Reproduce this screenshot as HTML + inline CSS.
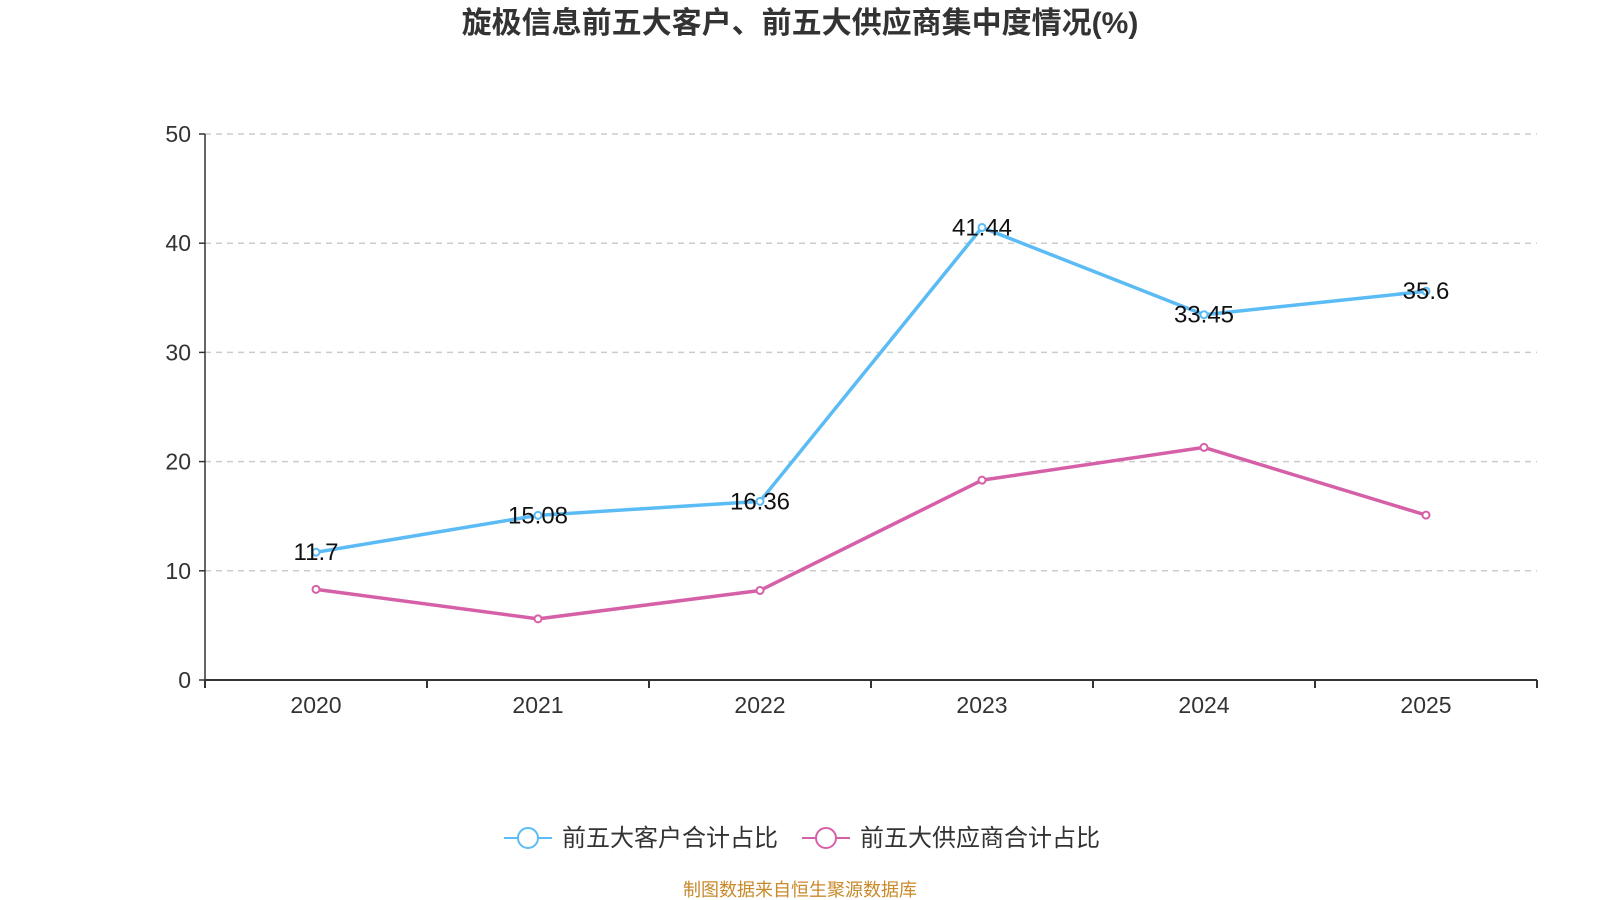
<!DOCTYPE html>
<html><head><meta charset="utf-8"><style>
html,body{margin:0;padding:0;background:#fff;width:1600px;height:900px;overflow:hidden}
svg{font-family:"Liberation Sans","Noto Sans CJK SC",sans-serif}
</style></head><body>
<svg id="chart" width="1600" height="900" xmlns="http://www.w3.org/2000/svg">
<text x="800" y="33" text-anchor="middle" font-size="30" font-weight="bold" fill="#333">旋极信息前五大客户、前五大供应商集中度情况(%)</text>
<g id="grid"></g><g id="axes"></g><g id="series"></g>
<g>
<g>
<line x1="504" y1="838" x2="552" y2="838" stroke="#5bbcf5" stroke-width="2"/>
<circle cx="528" cy="838" r="10" fill="#fff" stroke="#5bbcf5" stroke-width="2"/>
<text x="562" y="846" font-size="24" fill="#333">前五大客户合计占比</text></g>
<g>
<line x1="802" y1="838" x2="850" y2="838" stroke="#d660a8" stroke-width="2"/>
<circle cx="826" cy="838" r="10" fill="#fff" stroke="#d660a8" stroke-width="2"/>
<text x="860" y="846" font-size="24" fill="#333">前五大供应商合计占比</text></g>
</g>
<text x="800" y="896" text-anchor="middle" font-size="18" fill="#c8892a">制图数据来自恒生聚源数据库</text>
</svg>
<script>
const categories=["2020","2021","2022","2023","2024","2025"];
const customerShare=[11.7,15.08,16.36,41.44,33.45,35.6];
const supplierShare=[8.3,5.6,8.2,18.3,21.3,15.1];
const yTicks=[0,10,20,30,40,50];
const NS="http://www.w3.org/2000/svg";
const L=205,R=1537,T=134,B=680,yMax=50;
const bw=(R-L)/categories.length;
const x=i=>L+bw*(i+0.5);
const y=v=>B-(v/yMax)*(B-T);
function mk(tag,attrs,parent,txt){const e=document.createElementNS(NS,tag);for(const k in attrs)e.setAttribute(k,attrs[k]);if(txt!==undefined)e.textContent=txt;parent.appendChild(e);return e;}
const grid=document.getElementById('grid'),axes=document.getElementById('axes'),ser=document.getElementById('series');
yTicks.forEach(t=>{
  if(t>0){const g=mk('line',{x1:L,x2:R,y1:y(t),y2:y(t),stroke:'#ccc','stroke-width':1.5,'stroke-dasharray':'6,5'},grid);
  
  }
  mk('line',{x1:L-6,x2:L,y1:y(t),y2:y(t),stroke:'#333','stroke-width':1.5},axes);
  const lb=mk('text',{x:L-14,y:y(t)+8,'text-anchor':'end','font-size':23,fill:'#333'},axes,String(t));
  
  
});
const ya=mk('line',{x1:L,x2:L,y1:T,y2:B,stroke:'#333','stroke-width':1.5},axes);


const xa=mk('line',{x1:L,x2:R,y1:B,y2:B,stroke:'#333','stroke-width':2},axes);


for(let i=0;i<=categories.length;i++)mk('line',{x1:L+bw*i,x2:L+bw*i,y1:B,y2:B+8,stroke:'#333','stroke-width':2},axes);
categories.forEach((c,i)=>{
  const t=mk('text',{x:x(i),y:B+33,'text-anchor':'middle','font-size':23,fill:'#333'},axes,c);
  
  
});
function drawSeries(vals,color,name,labels){
  const p=mk('polyline',{points:vals.map((v,i)=>x(i)+','+y(v)).join(' '),fill:'none',stroke:color,'stroke-width':3.5,'stroke-linejoin':'round'},ser);
  
  
  vals.forEach((v,i)=>{
    const c=mk('circle',{cx:x(i),cy:y(v),r:3.5,fill:'#fff',stroke:color,'stroke-width':2},ser);
    
    
    if(labels){const t=mk('text',{x:x(i),y:y(v)+8,'text-anchor':'middle','font-size':24,fill:'#111'},ser,String(v));
    
    }
  });
}
drawSeries(supplierShare,'#d660a8','supplier-share',false);
drawSeries(customerShare,'#5bbcf5','customer-share',true);
</script>
</body></html>
